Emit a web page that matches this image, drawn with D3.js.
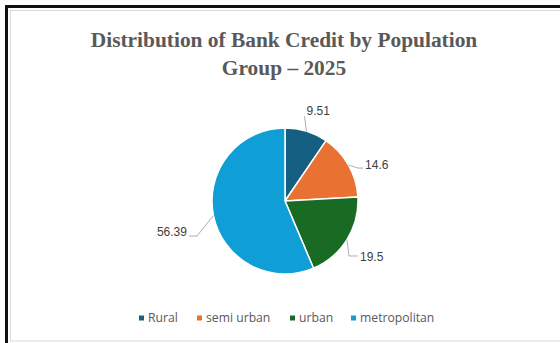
<!DOCTYPE html>
<html>
<head>
<meta charset="utf-8">
<script src="https://cdn.jsdelivr.net/npm/d3@7"></script>
<style>
  html, body { margin: 0; padding: 0; background: #fff; }
  svg { display: block; }
</style>
</head>
<body>
<svg id="chart" width="560" height="343"></svg>
<script>
// Share of bank credit by population group, 2025 (%)
const categories = ["Rural", "semi urban", "urban", "metropolitan"];
const values = [9.51, 14.6, 19.5, 56.39];
const colors = ["#156082", "#E97132", "#196B24", "#0F9ED5"];
const titleLines = ["Distribution of Bank Credit by Population", "Group \u2013 2025"];

// Leader-line layout for each data label, relative to the slice edge
const labelLayout = [
  { end: [-2, -15], elbow: null, anchor: "start", text: [2, -1] },
  { end: [14.5, 3], elbow: -5, anchor: "start", text: [2, 1] },
  { end: [11, 16.4], elbow: -9, anchor: "start", text: [2, 5] },
  { end: [-24.5, 20.5], elbow: 8, anchor: "end", text: [-2, 0] }
];

const svg = d3.select("#chart");
const W = 560, H = 343;

// Outer frame
svg.append("rect").attr("x", 0).attr("y", 0).attr("width", W).attr("height", H).attr("fill", "#fff");
svg.append("path")
  .attr("d", `M6.5,${H} V6.5 H${W}`)
  .attr("fill", "none").attr("stroke", "#111").attr("stroke-width", 3);
svg.append("rect")
  .attr("x", 10.5).attr("y", 10.5).attr("width", W + 20).attr("height", 330.5)
  .attr("fill", "#fff").attr("stroke", "#d9d9d9").attr("stroke-width", 1);

// Title
const title = svg.append("text")
  .attr("text-anchor", "middle")
  .attr("font-family", "'Liberation Serif', 'Times New Roman', serif")
  .attr("font-weight", "bold")
  .attr("font-size", 21.4)
  .attr("fill", "#595959");
titleLines.forEach((t, i) => {
  title.append("tspan").attr("x", 284).attr("y", 47 + i * 28).text(t);
});

// Pie
const cx = 285, cy = 201, r = 73;
const pie = d3.pie().sort(null).value(d => d)(values);
const arc = d3.arc().innerRadius(0).outerRadius(r);
const g = svg.append("g").attr("transform", `translate(${cx},${cy})`);

g.selectAll("path.slice")
  .data(pie)
  .join("path")
  .attr("class", "slice")
  .attr("d", arc)
  .attr("fill", (d, i) => colors[i])
  .attr("stroke", "#fff")
  .attr("stroke-width", 1.5)
  .attr("stroke-linejoin", "round");

// Data labels with leader lines
pie.forEach((d, i) => {
  const a = (d.startAngle + d.endAngle) / 2;
  const ex = Math.sin(a) * r, ey = -Math.cos(a) * r;
  const L = labelLayout[i];
  const endX = ex + L.end[0], endY = ey + L.end[1];
  const pts = [[ex, ey]];
  if (L.elbow !== null) pts.push([endX + L.elbow, endY]);
  pts.push([endX, endY]);
  g.append("path")
    .attr("d", d3.line()(pts))
    .attr("fill", "none")
    .attr("stroke", "#a6a6a6")
    .attr("stroke-width", 0.9);
  g.append("text")
    .attr("x", endX + L.text[0])
    .attr("y", endY + L.text[1])
    .attr("text-anchor", L.anchor)
    .attr("font-family", "'Liberation Sans', Arial, sans-serif")
    .attr("font-size", 12)
    .attr("fill", "#404040")
    .text(values[i]);
});

// Legend
const legendX = [139, 197, 290, 351];
const legend = svg.append("g");
categories.forEach((c, i) => {
  legend.append("rect")
    .attr("x", legendX[i]).attr("y", 315.5)
    .attr("width", 5).attr("height", 5)
    .attr("fill", colors[i]);
  legend.append("text")
    .attr("x", legendX[i] + 9).attr("y", 322)
    .attr("font-family", "'Open Sans', sans-serif")
    .attr("font-size", 12.2)
    .attr("fill", "#595959")
    .text(c);
});
</script>
</body>
</html>
